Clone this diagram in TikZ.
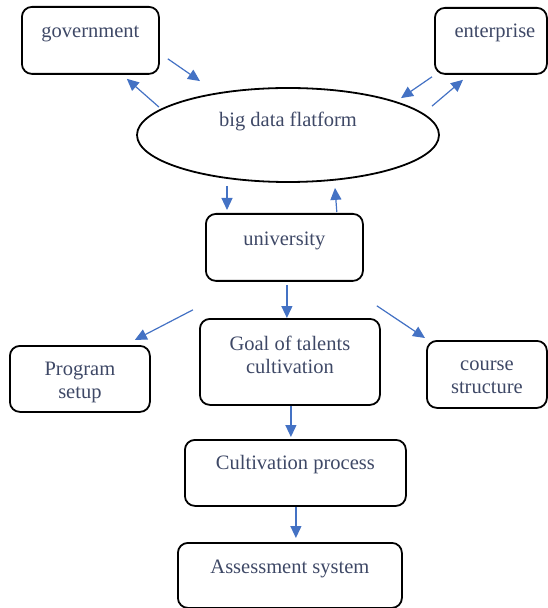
\documentclass[tikz,border=0pt]{standalone}
\usepackage{fontspec}
\setmainfont{Liberation Serif}
\usepackage{tikz}
\usetikzlibrary{arrows.meta}
\usetikzlibrary{shapes.geometric}
\definecolor{txtblue}{RGB}{62,72,102}
\definecolor{arrblue}{RGB}{68,114,196}
\begin{document}
\begin{tikzpicture}[x=0.5pt, y=-0.5pt,
box/.style={draw, line width=0.9pt, rounded corners=5pt, inner sep=0pt, anchor=north west, align=center,
  text=txtblue, font=\fontsize{10.25}{11.8}\selectfont},
arr/.style={draw=arrblue, line width=0.6pt, -{Triangle[length=6pt,width=5.5pt]}, arrblue}]
\useasboundingbox (0,0) rectangle (547,608);
\node[box, minimum width=68.5pt, text height=15.5pt, text depth=18pt] (gov) at (21,6) {government};
\node[box, minimum width=56pt, text height=15pt, text depth=18pt] (ent) at (434,7) {\hspace*{4pt}enterprise};
\node[ellipse, draw, line width=0.9pt, inner sep=0pt, minimum width=151pt, minimum height=47pt,
  text height=2pt, text depth=10pt, text=txtblue, font=\fontsize{10.25}{11.8}\selectfont] (bdp) at (288,135) {big data flatform};
\node[box, minimum width=78.5pt, text height=16pt, text depth=17.5pt] (univ) at (205,213) {university};
\node[box, minimum width=90pt, text height=27.5pt, text depth=15.5pt] (goal) at (199,318) {Goal of talents\\cultivation};
\node[box, minimum width=70pt, text height=26.5pt, text depth=6.5pt] (prog) at (9,345) {Program\\setup};
\node[box, minimum width=60pt, text height=26.5pt, text depth=7pt] (course) at (426,340) {course\\structure};
\node[box, minimum width=110.5pt, text height=15pt, text depth=18pt] (cult) at (184,439) {Cultivation process};
\node[box, minimum width=112pt, text height=15.5pt, text depth=17pt] (assess) at (177,542) {Assessment system};
\draw[arr] ([shift={(8,-16)}]gov.south east) -- ([shift={(-88,-6)}]bdp.north);
\draw[arr] ([shift={(-129,20)}]bdp.north) -- ([shift={(-33,4)}]gov.south east);
\draw[arr] ([shift={(-2,2)}]ent.south west) -- ([shift={(113,11)}]bdp.north);
\draw[arr] ([shift={(144,19)}]bdp.north) -- ([shift={(29,5)}]ent.south west);
\draw[arr] ([shift={(-61,3)}]bdp.south) -- ([shift={(22,-3)}]univ.north west);
\draw[arr] ([shift={(-27,-1)}]univ.north east) -- ([shift={(47,5)}]bdp.south);
\draw[arr] ([shift={(2.5,3)}]univ.south) -- ([shift={(-3,0)}]goal.north);
\draw[arr] ([shift={(-12,28)}]univ.south west) -- ([shift={(-16,-5)}]prog.north east);
\draw[arr] ([shift={(13,24)}]univ.south east) -- ([shift={(-1,-2)}]course.north west);
\draw[arr] ([shift={(1,0)}]goal.south) -- ([shift={(-4.5,-2)}]cult.north);
\draw[arr] ([shift={(0.5,0)}]cult.south) -- ([shift={(6,-4)}]assess.north);
\end{tikzpicture}
\end{document}
